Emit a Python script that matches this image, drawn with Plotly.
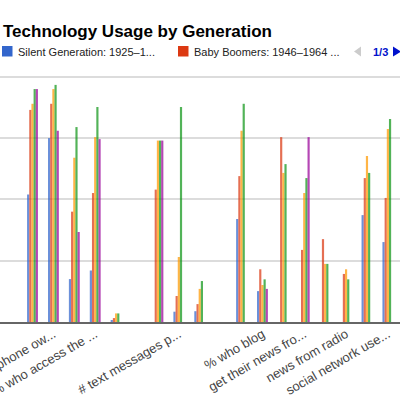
import plotly.graph_objects as go

# Categories (every other label is hidden by the chart, two empty separator slots)
categories = [
    "% who own a desktop computer",
    "% of cell phone owners",
    "% who go online",
    "% who access the internet wirelessly",
    "# devices owned",
    "",
    "% who send text messages",
    "# text messages per day",
    "# apps used",
    "",
    "% who use email",
    "% who blog",
    "% who read blogs",
    "get their news from the internet",
    "news from TV",
    "news from radio",
    "% who watch video online",
    "social network users",
]

# truncated labels as they appear under the axis
tick_index = [1, 3, 7, 11, 13, 15, 17]
tick_labels = [
    "% of cell phone ow...",
    "% who access the ...",
    "# text messages p...",
    "% who blog",
    "get their news fro...",
    "news from radio",
    "social network use...",
]

series_names = [
    "Silent Generation: 1925–1945",
    "Baby Boomers: 1946–1964",
    "Generation X: 1965–1980",
    "Millennials: 1981–2000",
    "All Adults",
]
colors = ["#3366cc", "#dc3912", "#ff9900", "#109618", "#990099"]

silent = [52, 75, 17.5, 21, 0.5, None, None, 4.2, 4.4, None, 42, 12.6, None, None, None, None, 43.6, 32.6]
boomers = [86.5, 89, 45, 52.6, 1.6, None, 54, 10.6, 7.3, None, 59.5, 21.5, 75.4, 29.4, 33.8, 19.6, 58.7, 50.6]
gen_x = [89, 95, 67, 75.4, 3.5, None, 74, 26.5, 13.5, None, 78, 15.1, 60.8, 52.6, 23.7, 21.5, 67.7, 78.7]
millennials = [95, 96.7, 79.5, 87.7, 3.5, None, 74, 87.7, 16.7, None, 89, 17.4, 64.4, 58.7, 23.7, 17.4, 60.8, 82.8]
all_adults = [95, 78, 36.7, 74.6, None, None, 74, None, None, None, None, 13.5, None, 75.4, None, None, None, None]

values = [silent, boomers, gen_x, millennials, all_adults]

W, H = 400, 400
M_T, M_B = 67, 78
FONT = "Liberation Sans, Arial, sans-serif"


def px_x(x):
    return x / W


def px_y(y):
    return (H - M_B - y) / (H - M_T - M_B)


fig = go.Figure()

x_pos = list(range(len(categories)))
for name, vals, col in zip(series_names, values, colors):
    fig.add_trace(
        go.Bar(
            x=x_pos,
            y=vals,
            name=name,
            marker=dict(color=col, line=dict(width=0)),
            opacity=0.72,
            hovertext=categories,
        )
    )

# legend, page 1 of 3 (two entries shown, names cut like the original)
legend_items = [(2, series_names[0][:25] + "..."), (178, series_names[1] + " ...")]
shapes = []
annotations = []
for (x0, label), col in zip(legend_items, colors):
    shapes.append(
        dict(type="rect", xref="paper", yref="paper",
             x0=px_x(x0), x1=px_x(x0 + 10.5), y0=px_y(46), y1=px_y(56.5),
             fillcolor=col, line=dict(width=0))
    )
    annotations.append(
        dict(text=label, xref="paper", yref="paper", x=px_x(x0 + 14), y=px_y(51.5),
             xanchor="left", yanchor="middle", showarrow=False,
             font=dict(family=FONT, size=11, color="#222"))
    )

# pager arrows
shapes.append(dict(type="path", xref="paper", yref="paper",
                   path=f"M {px_x(361)} {px_y(46.5)} L {px_x(354)} {px_y(51.5)} L {px_x(361)} {px_y(56.5)} Z",
                   fillcolor="#cccccc", line=dict(width=0)))
shapes.append(dict(type="path", xref="paper", yref="paper",
                   path=f"M {px_x(393)} {px_y(46.5)} L {px_x(401)} {px_y(51.5)} L {px_x(393)} {px_y(56.5)} Z",
                   fillcolor="#0011cc", line=dict(width=0)))
annotations.append(
    dict(text="<b>1/3</b>", xref="paper", yref="paper", x=px_x(380.5), y=px_y(51.5),
         xanchor="center", yanchor="middle", showarrow=False,
         font=dict(family=FONT, size=11, color="#0011cc"))
)

fig.update_layout(
    width=W,
    height=H,
    template="none",
    barmode="group",
    bargap=0.48,
    bargroupgap=0,
    showlegend=False,
    plot_bgcolor="white",
    paper_bgcolor="white",
    margin=dict(l=0, r=0, t=M_T, b=M_B, pad=0),
    title=dict(
        text="Technology Usage by Generation",
        font=dict(family=FONT, size=17, color="#000", weight="bold"),
        xref="container", yref="container",
        x=3 / W, xanchor="left",
        y=1 - 31 / H, yanchor="middle",
    ),
    xaxis=dict(
        range=[-1.555, 17.58],
        tickmode="array",
        tickvals=tick_index,
        ticktext=tick_labels,
        tickangle=-30,
        ticks="",
        ticklabeloverflow="allow",
        ticklabelstandoff=-2,
        showgrid=False,
        zeroline=False,
        showline=True,
        linecolor="#666",
        linewidth=1.5,
        automargin=False,
        tickfont=dict(family=FONT, size=13, color="#444"),
    ),
    yaxis=dict(
        range=[0, 104],
        dtick=25,
        showticklabels=False,
        ticks="",
        showgrid=True,
        gridcolor="#dcdcdc",
        gridwidth=1.5,
        zeroline=False,
        automargin=False,
    ),
    shapes=shapes,
    annotations=annotations,
)

# the page body has a default 8px margin; remove it so the chart sits at 0,0
fig.write_html(
    "out.html",
    config={"displayModeBar": False},
    post_script="document.body.style.margin='0';",
)
